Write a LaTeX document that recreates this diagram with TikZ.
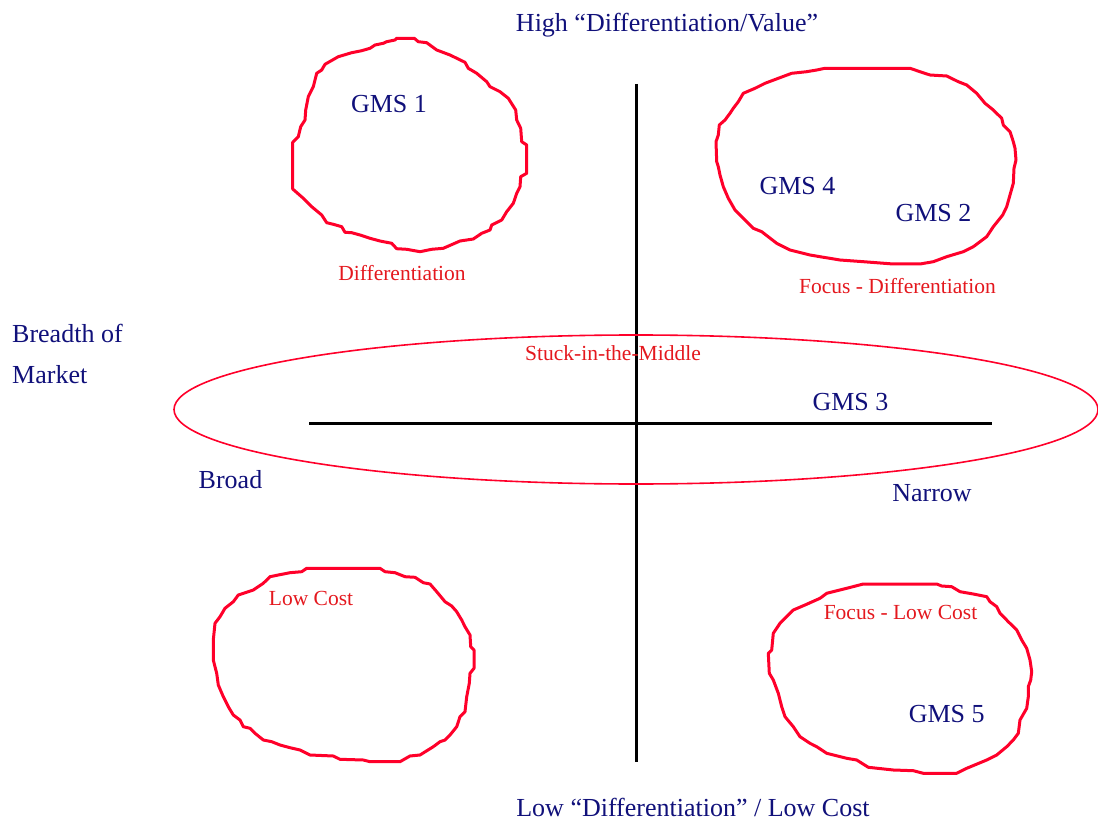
\documentclass[tikz,border=0pt]{standalone}
\usepackage{fontspec}
\setmainfont{Liberation Serif}
\begin{document}
\begin{tikzpicture}[x=1pt,y=-1pt,
  navytext/.style={text=navyblue,font=\fontsize{26}{30}\selectfont,inner sep=0pt,anchor=base},
  redtext/.style={text=labelred,font=\fontsize{21.5}{25}\selectfont,inner sep=0pt,anchor=base},
  axis/.style={draw=black,line width=3pt},
  blob/.style={draw=blobred,line width=3pt,line join=round},
  band/.style={draw=blobred,line width=1.6pt}]
\definecolor{navyblue}{RGB}{16,16,122}
\definecolor{labelred}{RGB}{228,24,30}
\definecolor{blobred}{RGB}{255,0,42}
\useasboundingbox (0,0) rectangle (1098,821);

% axes
\coordinate (vtop) at (636,84);
\coordinate (vbot) at (636,762);
\coordinate (hleft) at (309,423);
\coordinate (hright) at (992,423);
\draw[axis] (vtop) -- (vbot);
\draw[axis] (hleft) -- (hright);

% stuck-in-the-middle band
\draw[band] (636,409.5) ellipse [x radius=462, y radius=74.5];

% differentiation region
\draw[blob] (396.7,38.3) -- (414.3,38.3) -- (418.3,41.7) -- (426.7,42.7) -- (436.7,50) -- (450,55) -- (465,62.3) -- (468.3,68.3) -- (476.7,73.3) -- (486.7,81.7) -- (490,86.7) -- (500,91.7) -- (508.3,98.3) -- (515.7,110) -- (516.7,120) -- (520.7,128.3) -- (521.7,141.7) -- (526.7,145) -- (526.7,173.3) -- (520.7,176.7) -- (520,186.7) -- (516.7,193.3) -- (513.3,203.3) -- (506.7,211.7) -- (501.7,220) -- (491.7,225) -- (490,230) -- (481.7,233.3) -- (473.3,239) -- (460,241) -- (443.3,248.3) -- (431.7,249.3) -- (420,251.7) -- (406.7,249.3) -- (396.7,248.7) -- (391.7,243.3) -- (380,241) -- (370,238.3) -- (360,235) -- (351.7,232.7) -- (345,232.3) -- (341.7,226.7) -- (333.3,224.3) -- (326.7,222.7) -- (321.7,215) -- (311.7,206.7) -- (303.3,198.3) -- (292.7,189) -- (292.7,142.3) -- (298.3,136.7) -- (300.7,126.7) -- (305,120) -- (305.7,110) -- (308.3,96.7) -- (313.3,86.7) -- (315,80) -- (316.7,73.3) -- (321.7,70) -- (325,64.3) -- (338.3,56.7) -- (351.7,52.7) -- (361.7,50.7) -- (370,48.3) -- (375,45) -- (383.3,43.3) -- (386.7,41.7) -- (395,40) -- cycle;

% focus - differentiation region
\draw[blob] (825,68.3) -- (910,68.3) -- (920,71.7) -- (930,75) -- (946.7,76) -- (958.3,81.7) -- (966.7,85) -- (976.7,93.3) -- (985,103.3) -- (993.3,110) -- (1001.7,118.3) -- (1003.3,125) -- (1010,131.7) -- (1013.3,141.7) -- (1015,148.3) -- (1016,160) -- (1014,168.3) -- (1013.3,183.3) -- (1010,195) -- (1006.7,206.7) -- (1002.7,215) -- (993.3,226.7) -- (986.7,236.7) -- (973.3,246.7) -- (963.3,251.7) -- (946.7,256.7) -- (933.3,261.7) -- (920,264) -- (893.3,264) -- (863.3,261.7) -- (840,260) -- (820,256.7) -- (810,255) -- (790,250) -- (776.7,243.3) -- (761.7,231.7) -- (753.3,228.3) -- (743.3,218.3) -- (735,210) -- (728.3,198.3) -- (723.3,186.7) -- (720,175) -- (718.3,166.7) -- (716.7,161.7) -- (716,141.7) -- (718.3,135) -- (719.3,125) -- (725,120) -- (730,113.3) -- (733.3,108.3) -- (738.3,101.7) -- (743.3,93.3) -- (755,88.3) -- (765,83.3) -- (778.3,78.3) -- (791.7,73.3) -- (806.7,71.7) -- (816.7,70) -- cycle;

% low cost region
\draw[blob] (306.7,568.3) -- (380,568.3) -- (385,571.7) -- (395,572.7) -- (405,576.7) -- (415,577.3) -- (423.3,582.7) -- (430,584) -- (436.7,591.7) -- (445,601.7) -- (451.7,606) -- (456.7,611.7) -- (461.7,620) -- (465,626.7) -- (470,635) -- (470.7,646.7) -- (474,650) -- (474,668.3) -- (470,673.3) -- (469.3,683.3) -- (466.7,696.7) -- (465,711.7) -- (460,716.7) -- (456.7,726.7) -- (450,735) -- (445,740) -- (440,741.7) -- (433.3,746.7) -- (420,755) -- (410,756) -- (400,761.7) -- (370,761.7) -- (363.3,760) -- (340,759.3) -- (333.3,756) -- (310,755) -- (300,750) -- (290,747.7) -- (280,745) -- (271.7,741.7) -- (263.3,740) -- (255,733.3) -- (250,728.3) -- (243.3,726.7) -- (240,720) -- (233.3,715) -- (228.3,706.7) -- (223.3,696.7) -- (218.3,685) -- (216.7,673.3) -- (215,666.7) -- (213.3,660) -- (213.3,640) -- (215,623.3) -- (220,616.7) -- (225,608.3) -- (233.3,601.7) -- (238.3,595) -- (253.3,590) -- (263.3,583.3) -- (270,576.7) -- (278.3,575) -- (290,572.7) -- (301.7,571.7) -- cycle;

% focus - low cost region
\draw[blob] (863.3,584) -- (936.7,584) -- (941.7,586) -- (951.7,586.7) -- (960,591.7) -- (973.3,594) -- (986.7,596.7) -- (990,601.7) -- (996.7,606.7) -- (1000,613.3) -- (1008.3,621.7) -- (1016.7,630) -- (1021.7,640) -- (1026.7,648.3) -- (1030,660) -- (1031.7,671.7) -- (1030.7,680) -- (1028.3,686.7) -- (1028.3,696.7) -- (1026.7,708.3) -- (1020,720) -- (1018.3,733.3) -- (1013.3,740) -- (1006.7,746.7) -- (996.7,755) -- (986.7,760) -- (966.7,768.3) -- (956.7,773.3) -- (923.3,773.3) -- (913.3,770.7) -- (893.3,770) -- (868.3,767.3) -- (856.7,760) -- (846.7,758.3) -- (826.7,753.3) -- (816.7,746.7) -- (810,743.3) -- (800,736.7) -- (793.3,726.7) -- (785,716.7) -- (781.7,706.7) -- (778.3,693.3) -- (773.3,680) -- (769.3,673.3) -- (768.3,653.3) -- (771.7,650) -- (773.3,633.3) -- (780,623.3) -- (793.3,610) -- (805,605) -- (820,598.3) -- (826.7,593.3) -- (846.7,588.3) -- cycle;

% axis captions
\node[navytext] (high) at (667,32) {High “Differentiation/Value”};
\node[navytext] (low) at (693,816) {Low “Differentiation” / Low Cost};
\node[navytext,anchor=base west] (breadth) at (12,342) {Breadth of};
\node[navytext,anchor=base west] (market) at (12,383) {Market};
\node[navytext] (broad) at (230.5,488.3) {Broad};
\node[navytext] (narrow) at (932,501.7) {Narrow};

% business units
\node[navytext] (gms1) at (389,112.3) {GMS 1};
\node[navytext] (gms4) at (797.5,195) {GMS 4};
\node[navytext] (gms2) at (933.5,221.7) {GMS 2};
\node[navytext] (gms3) at (850.5,410.7) {GMS 3};
\node[navytext] (gms5) at (946.7,722.7) {GMS 5};

% strategy labels
\node[redtext] (diff) at (402,280) {Differentiation};
\node[redtext] (focdiff) at (897.5,293.3) {Focus - Differentiation};
\node[redtext] (stuck) at (613,360.7) {Stuck-in-the-Middle};
\node[redtext] (lowcost) at (311,605.7) {Low Cost};
\node[redtext] (foclow) at (900.5,619) {Focus - Low Cost};
\end{tikzpicture}
\end{document}
